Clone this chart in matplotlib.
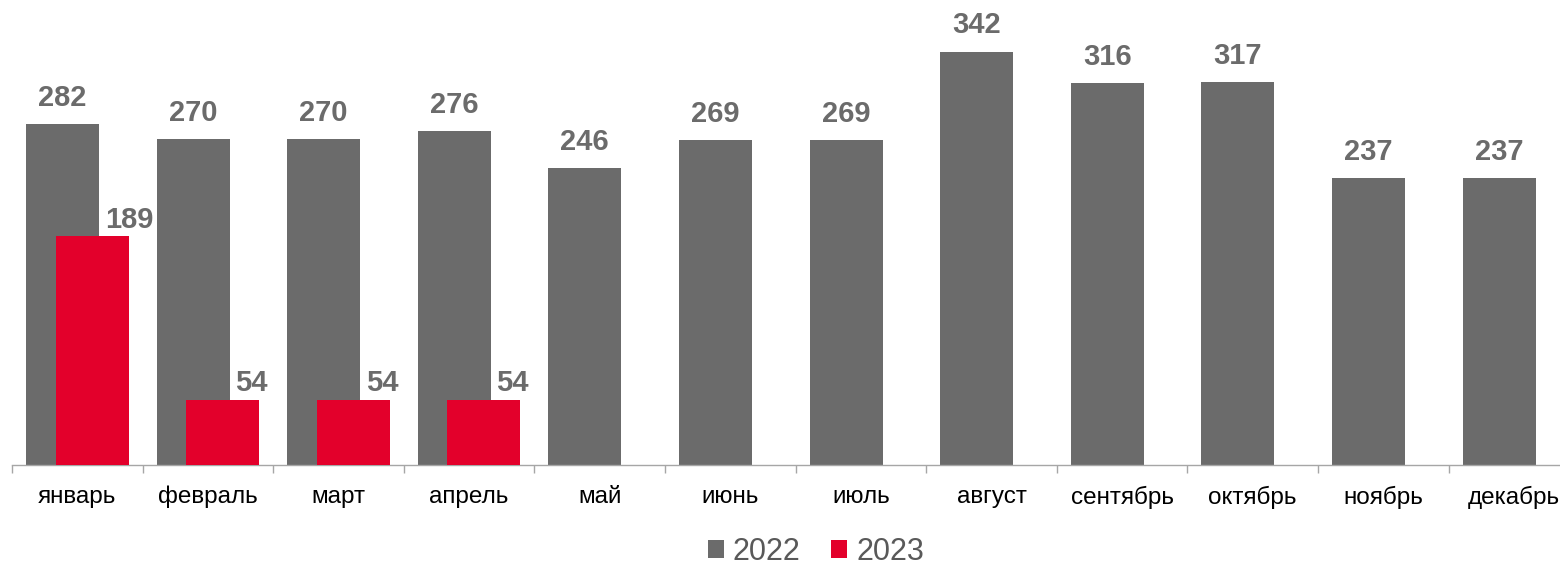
import matplotlib
matplotlib.use("Agg")
import matplotlib.pyplot as plt
from matplotlib.patches import Patch
import numpy as np

months = ["январь", "февраль", "март", "апрель", "май", "июнь", "июль",
          "август", "сентябрь", "октябрь", "ноябрь", "декабрь"]
values_2022 = [282, 270, 270, 276, 246, 269, 269, 342, 316, 317, 237, 237]
values_2023 = [189, 54, 54, 54]
series_names = ["2022", "2023"]

GRAY = "#6b6b6b"
RED = "#e3002b"
LABEL_GRAY = "#6b6b6b"

plt.rcParams['font.family'] = ['Liberation Sans', 'DejaVu Sans']

W, H = 1560, 567
fig = plt.figure(figsize=(W / 100, H / 100), dpi=100)
cat_px = 130.6
left_px = 12
base_px = 465
ax = fig.add_axes([left_px / W, (H - base_px) / H, (W - left_px) / W, base_px / H])

x = np.arange(len(months))
bw = 0.559
off = 0.114
ax.bar(x - off, values_2022, width=bw, color=GRAY, zorder=2)
x23 = np.arange(len(values_2023))
ax.bar(x23 + off, values_2023, width=bw, color=RED, zorder=3)

for xi, v in zip(x, values_2022):
    ax.annotate(str(v), (xi - off, v), xytext=(0, 13), textcoords="offset points",
                ha="center", va="baseline", fontsize=21, fontweight="bold",
                color=LABEL_GRAY, zorder=5)
for xi, v in zip(x23, values_2023):
    ax.annotate(str(v), (xi + off - bw / 2 + 0.375, v), xytext=(0, 6),
                textcoords="offset points", ha="left", va="baseline",
                fontsize=21, fontweight="bold", color=LABEL_GRAY, zorder=5)

for s in ["top", "right", "left"]:
    ax.spines[s].set_visible(False)
ax.spines["bottom"].set_color("#a6a6a6")
ax.spines["bottom"].set_linewidth(1.0)
ax.set_yticks([])
ax.set_xticks(x)
ax.set_xticklabels(months, fontsize=17.5, color="black")
ax.tick_params(axis="x", which="major", length=0, pad=15)
ax.set_xticks(np.arange(-0.5, len(months), 1.0), minor=True)
ax.tick_params(axis="x", which="minor", length=5.5, color="#a6a6a6", width=1.0)

ax.set_xlim(-0.5, -0.5 + (W - left_px) / cat_px)
ax.set_ylim(0, base_px / 1.209)

handles = [Patch(facecolor=GRAY, edgecolor="none"), Patch(facecolor=RED, edgecolor="none")]
leg = fig.legend(handles, series_names, loc="center", bbox_to_anchor=(816 / W, (H - 552) / H),
                 ncol=2, frameon=False, fontsize=22, handlelength=0.52, handleheight=0.52,
                 handletextpad=0.3, columnspacing=1.0, borderaxespad=0, borderpad=0)
for t in leg.get_texts():
    t.set_color("#595959")

fig.savefig("out.png", dpi=100)
